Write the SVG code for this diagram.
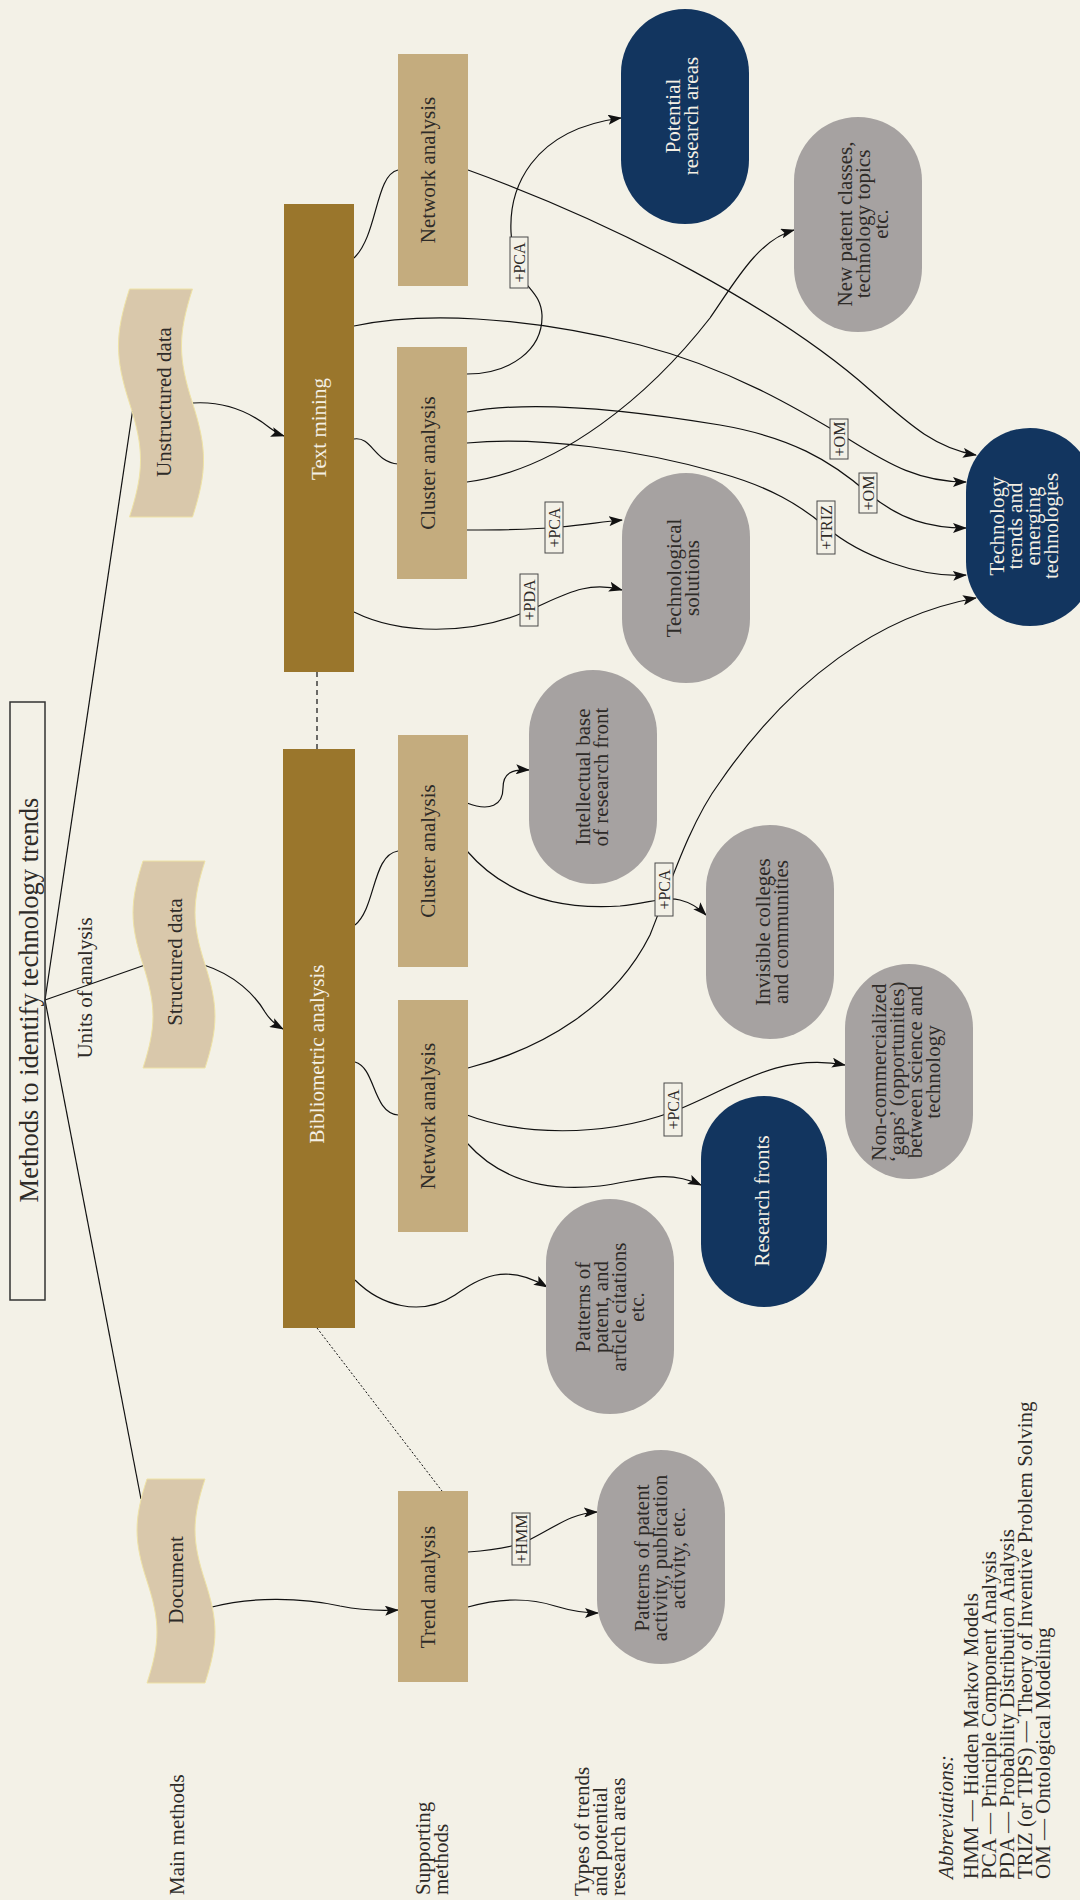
<svg xmlns="http://www.w3.org/2000/svg" width="1080" height="1900" viewBox="0 0 1080 1900">
<defs>
<marker id="ah" viewBox="0 0 14 10" refX="13" refY="5" markerWidth="14" markerHeight="10" markerUnits="userSpaceOnUse" orient="auto"><path d="M0,0 L14,5 L0,10 L3,5 Z" fill="#111"/></marker>
<style>
.t{font-family:"Liberation Serif","DejaVu Serif",serif;font-size:21px;fill:#2E2B28}
.w{fill:#F4EFE4}
.main{fill:#9A762C}
.sup{fill:#C4AC7E}
.tape{fill:#D9C8AB;stroke:#EFE3A6;stroke-width:1}
.navy{fill:#12355F}
.grey{fill:#A6A2A1}
.conn path{fill:none;stroke:#111;stroke-width:1.2}
.conn path.a{marker-end:url(#ah)}
.lbl rect{fill:#F3F1E7;stroke:#4A4A4A;stroke-width:1}
.lbl text{font-family:"Liberation Serif","DejaVu Serif",serif;font-size:16px;fill:#2E2B28;text-anchor:middle}
</style>
</defs>
<rect x="0" y="0" width="1080" height="1900" fill="#F3F1E7"/>

<g id="connectors" class="conn">
<path d="M45,1000 L133,408"/>
<path d="M45,1000 L145,965"/>
<path d="M45,1000 L141,1499"/>
<path class="a" d="M193,403 C225,401 250,412 270,428 C275,432 278,434 284,436"/>
<path class="a" d="M204,965 C235,975 255,995 265,1012 C270,1020 276,1025 283,1029"/>
<path class="a" d="M212,1607 C250,1597 300,1597 340,1606 C360,1610 380,1611 398,1610"/>
<path d="M354,258 C378,235 375,175 398,170"/>
<path d="M354,439 C372,436 374,462 398,464"/>
<path d="M355,925 C376,908 372,855 398,851"/>
<path d="M355,1062 C376,1068 372,1112 398,1115"/>
<path d="M317,672 L317,749" stroke-dasharray="5,4"/>
<path d="M317,1328 L442,1491" stroke-dasharray="2,2" style="stroke-width:1"/>
<path class="a" d="M468,170 C620,225 780,310 870,390 C910,425 935,448 976,455"/>
<path class="a" d="M354,326 C420,312 520,315 640,345 C730,368 800,410 850,440 C890,465 920,482 966,482"/>
<path class="a" d="M467,412 C520,402 600,405 720,425 C790,437 830,460 868,493 C900,520 930,528 966,528"/>
<path class="a" d="M467,443 C540,436 640,450 720,473 C770,487 800,505 826,527 C860,556 920,578 966,575"/>
<path class="a" d="M467,374 C510,374 543,350 542,315 C541,298 532,292 525,282 C518,272 512,255 511,232 C509,190 530,130 621,118"/>
<path class="a" d="M467,482 C560,470 650,395 710,318 C735,282 758,240 794,230"/>
<path class="a" d="M467,530 C510,530 540,529 560,527 C585,525 600,522 622,520"/>
<path class="a" d="M354,612 C400,635 470,635 525,612 C563,596 585,580 622,590"/>
<path class="a" d="M467,803 C490,812 503,805 503,788 C503,773 512,769 529,770"/>
<path class="a" d="M467,851 C505,895 560,910 620,906 C650,903 665,896 680,900 C692,903 700,909 706,915"/>
<path class="a" d="M468,1068 C545,1048 615,1005 650,935 C670,885 690,822 720,782 C790,680 880,615 976,598"/>
<path class="a" d="M467,1115 C520,1135 600,1138 672,1112 C730,1090 775,1052 845,1065"/>
<path class="a" d="M467,1143 C500,1180 545,1192 600,1186 C640,1181 665,1168 701,1185"/>
<path class="a" d="M355,1280 C380,1305 420,1318 455,1295 C480,1278 505,1262 547,1287"/>
<path class="a" d="M468,1552 C495,1550 515,1547 529,1540 C555,1527 572,1513 597,1512"/>
<path class="a" d="M468,1607 C500,1598 530,1598 555,1606 C575,1612 585,1613 598,1613"/>
</g>

<g id="title">
<rect x="10" y="702" width="35" height="598" fill="none" stroke="#333" stroke-width="1.5"/>
<text class="t" style="font-size:26.5px" text-anchor="middle" transform="translate(37.5,1000) rotate(-90)">Methods to identify technology trends</text>
</g>

<g id="units-label"><text class="t" text-anchor="middle" transform="translate(92,988) rotate(-90)">Units of analysis</text></g>

<g id="unstructured">
<path class="tape" d="M129.5,289 L192.5,289 C177.8,334.6 177.8,357.4 192.5,403 C207.2,448.6 207.2,471.4 192.5,517 L129.5,517 C144.2,471.4 144.2,448.6 129.5,403 C114.8,357.4 114.8,334.6 129.5,289 Z"/>
<text class="t" text-anchor="middle" transform="translate(171,402) rotate(-90)">Unstructured data</text>
</g>
<g id="structured">
<path class="tape" d="M143,861 L205,861 C191.7,902.4 191.7,923.1 205,964.5 C218.3,1005.9 218.3,1026.6 205,1068 L143,1068 C156.3,1026.6 156.3,1005.9 143,964.5 C129.7,923.1 129.7,902.4 143,861 Z"/>
<text class="t" text-anchor="middle" transform="translate(182,962) rotate(-90)">Structured data</text>
</g>
<g id="document">
<path class="tape" d="M147,1479 L205,1479 C191.7,1519.8 191.7,1540.2 205,1581 C218.3,1621.8 218.3,1642.2 205,1683 L147,1683 C160.3,1642.2 160.3,1621.8 147,1581 C133.7,1540.2 133.7,1519.8 147,1479 Z"/>
<text class="t" text-anchor="middle" transform="translate(183,1580) rotate(-90)">Document</text>
</g>

<g id="text-mining">
<rect class="main" x="284" y="204" width="70" height="468"/>
<text class="t w" text-anchor="middle" transform="translate(326,429) rotate(-90)">Text mining</text>
</g>
<g id="bibliometric">
<rect class="main" x="283" y="749" width="72" height="579"/>
<text class="t w" text-anchor="middle" transform="translate(324,1054) rotate(-90)">Bibliometric analysis</text>
</g>

<g id="network-tm">
<rect class="sup" x="398" y="54" width="70" height="232"/>
<text class="t" text-anchor="middle" transform="translate(435,170) rotate(-90)">Network analysis</text>
</g>
<g id="cluster-tm">
<rect class="sup" x="397" y="347" width="70" height="232"/>
<text class="t" text-anchor="middle" transform="translate(435,463) rotate(-90)">Cluster analysis</text>
</g>
<g id="cluster-ba">
<rect class="sup" x="398" y="735" width="70" height="232"/>
<text class="t" text-anchor="middle" transform="translate(435,851) rotate(-90)">Cluster analysis</text>
</g>
<g id="network-ba">
<rect class="sup" x="398" y="1000" width="70" height="232"/>
<text class="t" text-anchor="middle" transform="translate(435,1116) rotate(-90)">Network analysis</text>
</g>
<g id="trend">
<rect class="sup" x="398" y="1491" width="70" height="191"/>
<text class="t" text-anchor="middle" transform="translate(435,1587) rotate(-90)">Trend analysis</text>
</g>

<g id="potential">
<rect class="navy" x="621" y="9" width="128" height="215" rx="64" ry="64"/>
<text class="t w" text-anchor="middle" transform="translate(680,116) rotate(-90)"><tspan x="0" y="0">Potential</tspan><tspan x="0" y="18">research areas</tspan></text>
</g>
<g id="new-patent">
<rect class="grey" x="794" y="117" width="128" height="215" rx="64" ry="64"/>
<text class="t" text-anchor="middle" transform="translate(852,224) rotate(-90)"><tspan x="0" y="0">New patent classes,</tspan><tspan x="0" y="18">technology topics</tspan><tspan x="0" y="36">etc.</tspan></text>
</g>
<g id="tech-trends">
<rect class="navy" x="966" y="428" width="128" height="198" rx="64" ry="64"/>
<text class="t w" text-anchor="middle" transform="translate(1004,526) rotate(-90)"><tspan x="0" y="0">Technology</tspan><tspan x="0" y="18">trends and</tspan><tspan x="0" y="36">emerging</tspan><tspan x="0" y="54">technologies</tspan></text>
</g>
<g id="tech-solutions">
<rect class="grey" x="622" y="473" width="128" height="210" rx="64" ry="64"/>
<text class="t" text-anchor="middle" transform="translate(681,578) rotate(-90)"><tspan x="0" y="0">Technological</tspan><tspan x="0" y="18">solutions</tspan></text>
</g>
<g id="intellectual">
<rect class="grey" x="529" y="670" width="128" height="214" rx="64" ry="64"/>
<text class="t" text-anchor="middle" transform="translate(590,777) rotate(-90)"><tspan x="0" y="0">Intellectual base</tspan><tspan x="0" y="18">of research front</tspan></text>
</g>
<g id="invisible">
<rect class="grey" x="706" y="825" width="128" height="214" rx="64" ry="64"/>
<text class="t" text-anchor="middle" transform="translate(770,932) rotate(-90)"><tspan x="0" y="0">Invisible colleges</tspan><tspan x="0" y="18">and communities</tspan></text>
</g>
<g id="non-commercialized">
<rect class="grey" x="845" y="964" width="128" height="215" rx="64" ry="64"/>
<text class="t" text-anchor="middle" transform="translate(886,1072) rotate(-90)"><tspan x="0" y="0">Non-commercialized</tspan><tspan x="0" y="18">‘gaps’ (opportunities)</tspan><tspan x="0" y="36">between science and</tspan><tspan x="0" y="54">technology</tspan></text>
</g>
<g id="research-fronts">
<rect class="navy" x="701" y="1096" width="126" height="211" rx="63" ry="63"/>
<text class="t w" text-anchor="middle" transform="translate(769,1201) rotate(-90)">Research fronts</text>
</g>
<g id="patterns-citations">
<rect class="grey" x="546" y="1199" width="128" height="215" rx="64" ry="64"/>
<text class="t" text-anchor="middle" transform="translate(590,1307) rotate(-90)"><tspan x="0" y="0">Patterns of</tspan><tspan x="0" y="18">patent, and</tspan><tspan x="0" y="36">article citations</tspan><tspan x="0" y="54">etc.</tspan></text>
</g>
<g id="patterns-activity">
<rect class="grey" x="597" y="1450" width="128" height="214" rx="64" ry="64"/>
<text class="t" text-anchor="middle" transform="translate(649,1558) rotate(-90)"><tspan x="0" y="0">Patterns of patent</tspan><tspan x="0" y="18">activity, publication</tspan><tspan x="0" y="36">activity, etc.</tspan></text>
</g>

<g id="labels" class="lbl">
<rect x="510" y="237" width="18" height="51"/><text transform="translate(525,262.5) rotate(-90)">+PCA</text>
<rect x="830" y="419" width="18" height="40"/><text transform="translate(845,439) rotate(-90)">+OM</text>
<rect x="859" y="473" width="18" height="40"/><text transform="translate(874,493) rotate(-90)">+OM</text>
<rect x="817" y="501" width="18" height="53"/><text transform="translate(832,527.5) rotate(-90)">+TRIZ</text>
<rect x="545" y="502" width="18" height="51"/><text transform="translate(560,527.5) rotate(-90)">+PCA</text>
<rect x="520" y="574" width="18" height="52"/><text transform="translate(535,600) rotate(-90)">+PDA</text>
<rect x="655" y="863" width="18" height="53"/><text transform="translate(670,889.5) rotate(-90)">+PCA</text>
<rect x="664" y="1083" width="18" height="53"/><text transform="translate(679,1109.5) rotate(-90)">+PCA</text>
<rect x="512" y="1513" width="18" height="52"/><text transform="translate(527,1539) rotate(-90)">+HMM</text>
</g>

<g id="headers">
<text class="t" transform="translate(184,1895) rotate(-90)">Main methods</text>
<text class="t" transform="translate(430,1895) rotate(-90)"><tspan x="0" y="0">Supporting</tspan><tspan x="0" y="18">methods</tspan></text>
<text class="t" transform="translate(589,1896) rotate(-90)"><tspan x="0" y="0">Types of trends</tspan><tspan x="0" y="18">and potential</tspan><tspan x="0" y="36">research areas</tspan></text>
</g>

<g id="abbreviations">
<text class="t" font-style="italic" transform="translate(953,1879) rotate(-90)">Abbreviations:</text>
<text class="t" transform="translate(978,1879) rotate(-90)"><tspan x="0" y="0">HMM — Hidden Markov Models</tspan><tspan x="0" y="18">PCA — Principle Component Analysis</tspan><tspan x="0" y="36">PDA — Probability Distribution Analysis</tspan><tspan x="0" y="54">TRIZ (or TIPS) — Theory of Inventive Problem Solving</tspan><tspan x="0" y="72">OM — Ontological Modeling</tspan></text>
</g>
</svg>
